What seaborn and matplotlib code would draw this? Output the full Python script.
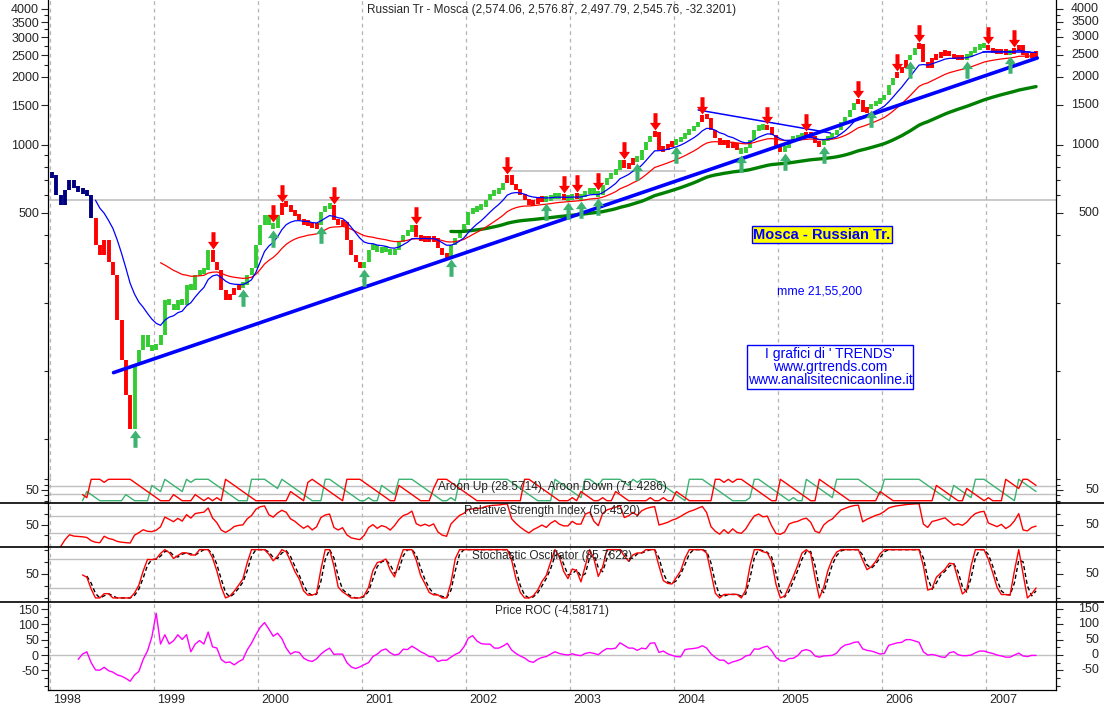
import numpy as np
import pandas as pd
import seaborn as sns
import matplotlib
matplotlib.use("Agg")
import matplotlib.pyplot as plt
import matplotlib.transforms as mtransforms
from matplotlib.path import Path
from matplotlib.lines import Line2D
from matplotlib.ticker import NullFormatter

# semi-monthly closes (two per month)
close_1998 = [736, 601, 543, 632, 700, 645, 632, 620, 601, 475, 361, 326,
              380, 304, 266, 168, 112, 78, 55, 106, 124, 144, 127, 124]
close_1999 = [130, 144, 206, 196, 186, 206, 196, 240, 228, 266, 274, 280,
              343, 304, 280, 228, 206, 217, 233, 238, 240, 266, 286, 361]
close_2000 = [443, 490, 443, 429, 490, 554, 543, 505, 490, 466, 443, 456,
              429, 443, 505, 532, 543, 466, 443, 456, 380, 326, 304, 286]
close_2001 = [304, 343, 361, 336, 350, 343, 326, 343, 372, 400, 413, 443,
              392, 380, 388, 380, 388, 350, 326, 316, 361, 388, 421, 443]
close_2002 = [505, 516, 526, 532, 571, 601, 620, 632, 679, 736, 665, 632,
              601, 571, 543, 560, 571, 583, 571, 589, 601, 589, 583, 583]
close_2003 = [595, 589, 589, 620, 632, 613, 601, 665, 714, 744, 775, 858,
              791, 816, 876, 858, 950, 1031, 1096, 1142, 950, 970, 990, 1021]
close_2004 = [1041, 1074, 1119, 1165, 1201, 1264, 1358, 1317, 1165, 1074, 1000, 1052,
              970, 1021, 950, 931, 970, 1052, 1165, 1214, 1189, 1201, 1107, 970]
close_2005 = [950, 970, 1052, 1074, 1085, 1107, 1119, 1096, 1021, 1000, 1052, 1085,
              1107, 1165, 1264, 1330, 1428, 1534, 1582, 1400, 1457, 1503, 1550, 1582]
close_2006 = [1664, 1843, 1979, 2104, 2191, 2378, 2501, 2687, 2798, 2330, 2191, 2427,
              2476, 2527, 2579, 2501, 2427, 2452, 2427, 2476, 2579, 2687, 2743, 2770]
close_2007 = [2633, 2606, 2579, 2606, 2554, 2579, 2633, 2770, 2501, 2476, 2527, 2546]

years = list(range(1998, 2008))

# signal arrows (decimal years)
up_signals = [1998.82, 1999.84, 2000.16, 2000.60, 2001.03, 2001.85, 2002.79, 2002.97,
              2003.11, 2003.29, 2003.66, 2004.04, 2004.66, 2005.07, 2005.43, 2005.90,
              2006.27, 2006.82, 2007.22]
down_signals = [1999.57, 2000.13, 2000.23, 2000.71, 2001.53, 2002.39, 2002.93, 2003.06,
                2003.25, 2003.54, 2003.82, 2004.29, 2004.90, 2005.29, 2005.78, 2006.15,
                2006.34, 2007.00, 2007.29]

# hand drawn lines
trend_dates = [1998.61, 2007.49]
trend_values = [98, 2427]
resist_dates = [[2004.23, 2005.50], [2006.97, 2007.42]]
resist_values = [[1428, 1130], [2579, 2579]]
level_dates = [[1997.98, 2007.67], [2002.39, 2004.11]]
level_values = [571, 767]

closes = (close_1998 + close_1999 + close_2000 + close_2001 + close_2002 +
          close_2003 + close_2004 + close_2005 + close_2006 + close_2007)
n = len(closes)
df = pd.DataFrame({'date': 1998.02 + np.arange(n) / 24, 'close': closes}, dtype=float)
df['open'] = df['close'].shift(1).fillna(df['close'])
df['lo'] = df[['open', 'close']].min(axis=1)
df['hi'] = df[['open', 'close']].max(axis=1)
# minimum drawn bar length, so small moves stay visible
mid = np.sqrt(df['lo'] * df['hi'])
short = df['hi'] / df['lo'] < 1.06
df.loc[short, 'lo'] = mid[short] / 1.03
df.loc[short, 'hi'] = mid[short] * 1.03

# moving averages 21, 55, 200 weeks ~ 10, 25, 92 half months
for span, col in [(10, 'ema21'), (25, 'ema55'), (92, 'ema200')]:
    e = df['close'].ewm(span=span, adjust=False).mean()
    e.iloc[:span] = np.nan
    df[col] = e

# bar colours from the signals
events = sorted([(d, 'up') for d in up_signals] + [(d, 'down') for d in down_signals])
colors = []
for i, row in df.iterrows():
    state = None
    for d, kind in events:
        if d <= row.date + 1 / 48:
            state = kind
    if state == 'up':
        colors.append('#33cc33')
    elif state == 'down':
        colors.append('#ff0000')
    elif np.isnan(row.ema21) or row.close >= row.ema21:
        colors.append('#000080')
    else:
        colors.append('#ff0000')

# indicators
c = df['close']
p = 7
df['aroon_up'] = c.rolling(p + 1).apply(lambda w: 100 * np.argmax(w) / p, raw=True)
df['aroon_dn'] = c.rolling(p + 1).apply(lambda w: 100 * np.argmin(w) / p, raw=True)
delta = c.diff()
gain = delta.clip(lower=0).ewm(alpha=1 / 5, adjust=False).mean()
loss = (-delta.clip(upper=0)).ewm(alpha=1 / 5, adjust=False).mean()
df['rsi'] = 100 - 100 / (1 + gain / loss)
df.loc[:1, 'rsi'] = np.nan
lo_n = c.rolling(p).min()
hi_n = c.rolling(p).max()
raw_k = 100 * (c - lo_n) / (hi_n - lo_n)
df['stk'] = raw_k.rolling(2).mean()
df['std'] = df['stk'].rolling(2).mean()
df['roc'] = 100 * (c / c.shift(6) - 1)

sns.set_style("white")
plt.rcParams['font.family'] = ['Liberation Sans', 'DejaVu Sans']

W, H = 1104, 708
fig = plt.figure(figsize=(W / 100, H / 100), dpi=100)


def axes_px(top, bottom):
    return fig.add_axes([48 / W, 1 - bottom / H, 1008 / W, (bottom - top) / H])


ax = axes_px(0, 477)
ax_ar = axes_px(477, 503)
ax_rsi = axes_px(503, 547)
ax_st = axes_px(547, 602)
ax_roc = axes_px(602, 690)
all_axes = [ax, ax_ar, ax_rsi, ax_st, ax_roc]

XLIM = (1997.98, 2007.67)
grid_c = '#c0c0c0'
for a in all_axes:
    a.set_xlim(*XLIM)
    for yr in years:
        a.axvline(yr, color='#b4b4b4', lw=0.9, ls=(0, (3, 3)), zorder=0)
    a.spines['top'].set_visible(False)
    a.spines['bottom'].set_visible(a is ax_roc)
    for s in a.spines.values():
        s.set_linewidth(0.9)
        s.set_color('black')
    a.tick_params(axis='y', which='both', left=True, right=True, direction='out',
                  labelsize=9, pad=1.5, width=0.8)
    a.tick_params(axis='y', which='major', length=5)
    a.tick_params(axis='y', which='minor', length=3)
    if a is not ax_roc:
        a.set_xticks([])


def right_labels(a, vals, texts):
    tr = mtransforms.blended_transform_factory(fig.transFigure, a.transData)
    for v, s in zip(vals, texts):
        a.text(1099 / W, v, s, transform=tr, ha='right', va='center', fontsize=9, clip_on=False)


# ---- main price panel
ax.set_yscale('log')
ax.set_ylim(33.8, 4384)
for (d0, d1), v in zip(level_dates, level_values):
    ax.hlines(v, d0, d1, color=grid_c, lw=1.2, zorder=1)
ax.vlines(df['date'], df['lo'], df['hi'], colors=colors, linewidth=2.8, zorder=3)
sns.lineplot(data=df, x='date', y='ema200', ax=ax, color='#008000', lw=2.4, zorder=4)
sns.lineplot(data=df, x='date', y='ema55', ax=ax, color='#ff0000', lw=0.9, zorder=4)
sns.lineplot(data=df, x='date', y='ema21', ax=ax, color='#0000ff', lw=0.9, zorder=4)
sns.lineplot(x=trend_dates, y=trend_values, ax=ax, color='#0000ff', lw=2.6, zorder=5)
for ds, vs in zip(resist_dates, resist_values):
    sns.lineplot(x=ds, y=vs, ax=ax, color='#0000ff', lw=1.1, zorder=5)

down_path = Path([(0, 0), (0.55, 0.75), (0.2, 0.75), (0.2, 1.7), (-0.2, 1.7),
                  (-0.2, 0.75), (-0.55, 0.75), (0, 0)])
up_path = Path([(x, -y) for x, y in down_path.vertices])
idx_up = [int(np.abs(df['date'] - d).argmin()) for d in up_signals]
idx_dn = [int(np.abs(df['date'] - d).argmin()) for d in down_signals]
ax.scatter(df['date'].iloc[idx_up], df['lo'].iloc[idx_up] * 0.99, marker=up_path,
           s=620, color='#3cb371', linewidths=0, zorder=6)
ax.scatter(df['date'].iloc[idx_dn], df['hi'].iloc[idx_dn] * 1.01, marker=down_path,
           s=620, color='#ff0000', linewidths=0, zorder=6)

main_ticks = [500, 1000, 1500, 2000, 2500, 3000, 3500, 4000]
ax.set_yticks(main_ticks)
ax.set_yticklabels([str(v) for v in main_ticks])
ax.set_yticks([50, 100, 200, 300, 400, 600, 700, 800, 900, 2250, 2750, 3250, 3750], minor=True)
ax.yaxis.set_minor_formatter(NullFormatter())
right_labels(ax, main_ticks, [str(v) for v in main_ticks])
ax.set_xlabel('')
ax.set_ylabel('')
ax.text(0.5, 1 - 10 / 477, 'Russian Tr - Mosca (2,574.06, 2,576.87, 2,497.79, 2,545.76, -32.3201)',
        transform=ax.transAxes, ha='center', va='center', fontsize=8.5)

# ---- Aroon
ax_ar.set_ylim(-10.7, 110.7)
for g in (30, 70):
    ax_ar.axhline(g, color=grid_c, lw=1, zorder=0)
sns.lineplot(data=df, x='date', y='aroon_up', ax=ax_ar, color='#3cb371', lw=1)
sns.lineplot(data=df, x='date', y='aroon_dn', ax=ax_ar, color='#ff0000', lw=1)
ax_ar.text(0.5, 1 - 10 / 26, 'Aroon Up (28.5714), Aroon Down (71.4286)',
           transform=ax_ar.transAxes, ha='center', va='center', fontsize=8.5)

# ---- RSI
ax_rsi.set_ylim(-1.6, 100)
for g in (30, 70):
    ax_rsi.axhline(g, color=grid_c, lw=1, zorder=0)
sns.lineplot(data=df, x='date', y='rsi', ax=ax_rsi, color='#ff0000', lw=1)
ax_rsi.text(0.5, 1 - 8 / 44, 'Relative Strength Index (50.4520)',
            transform=ax_rsi.transAxes, ha='center', va='center', fontsize=8.5)

# ---- Stochastic
ax_st.set_ylim(-8.4, 105.5)
for g in (20, 80):
    ax_st.axhline(g, color=grid_c, lw=1, zorder=0)
sns.lineplot(data=df, x='date', y='std', ax=ax_st, color='black', lw=1, linestyle=(0, (3, 2)))
sns.lineplot(data=df, x='date', y='stk', ax=ax_st, color='#ff0000', lw=1)
ax_st.text(0.5, 1 - 9 / 55, 'Stochastic Oscillator (85.7622)',
           transform=ax_st.transAxes, ha='center', va='center', fontsize=8.5)

# ---- ROC
ax_roc.set_ylim(-114, 173)
ax_roc.axhline(0, color=grid_c, lw=1, zorder=0)
sns.lineplot(data=df, x='date', y='roc', ax=ax_roc, color='#ff00ff', lw=1)
ax_roc.text(0.5, 1 - 9 / 88, 'Price ROC (-4.58171)',
            transform=ax_roc.transAxes, ha='center', va='center', fontsize=8.5)

for a in (ax_ar, ax_rsi, ax_st):
    a.set_yticks([50])
    a.set_yticklabels(['50'])
    a.set_yticks([0, 25, 75, 100], minor=True)
    right_labels(a, [50], ['50'])
roc_ticks = [-50, 0, 50, 100, 150]
ax_roc.set_yticks(roc_ticks)
ax_roc.set_yticklabels([str(v) for v in roc_ticks])
ax_roc.set_yticks(np.arange(-100, 151, 25), minor=True)
right_labels(ax_roc, roc_ticks, [str(v) for v in roc_ticks])

ax_roc.set_xticks(years)
ax_roc.set_xticks(np.arange(1998, 2007.7, 1 / 12), minor=True)
ax_roc.tick_params(axis='x', which='major', length=13, width=1, labelbottom=False)
ax_roc.tick_params(axis='x', which='minor', length=3.5, width=0.8)
tr = mtransforms.blended_transform_factory(ax_roc.transData, fig.transFigure)
for yr in years:
    ax_roc.text(yr + 0.03, 1 - 700 / H, str(yr), transform=tr, ha='left', va='center',
                fontsize=9, clip_on=False)

for a in all_axes:
    a.set_xlabel('')
    a.set_ylabel('')

# panel separators across the whole width
for y in (503, 547, 602):
    fig.add_artist(Line2D([0, 1], [1 - y / H] * 2, transform=fig.transFigure, color='black', lw=1.2))

# notes
fig.text(822 / W, 1 - 234.5 / H, 'Mosca - Russian Tr.', ha='center', va='center', fontsize=10.5,
         fontweight='bold', color='#0000ff',
         bbox=dict(boxstyle='square,pad=0.1', fc='yellow', ec='#0000ff', lw=1))
fig.text(820 / W, 1 - 292 / H, 'mme 21,55,200', ha='center', va='center', fontsize=8.8, color='#0000ff')
fig.text(830 / W, 1 - 367 / H, "I grafici di ' TRENDS'\nwww.grtrends.com\nwww.analisitecnicaonline.it",
         ha='center', va='center', multialignment='center', fontsize=10, color='#0000ff',
         linespacing=0.95, bbox=dict(boxstyle='square,pad=0.08', fc='white', ec='#0000ff', lw=1))

fig.savefig('out.png', dpi=100)
